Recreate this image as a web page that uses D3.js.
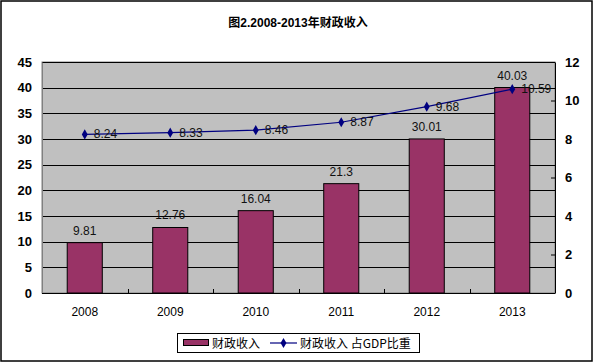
<!DOCTYPE html>
<html>
<head>
<meta charset="utf-8">
<script src="https://cdn.jsdelivr.net/npm/d3@7"></script>
<style>
body { margin: 0; background: #fff; }
text { font-family: Arial, "Liberation Sans", "Noto Sans CJK SC", sans-serif; }
</style>
</head>
<body>
<div id="chart"></div>
<script>
// data
var years = ["2008", "2009", "2010", "2011", "2012", "2013"];
var revenue = [9.81, 12.76, 16.04, 21.3, 30.01, 40.03];
var gdpShare = [8.24, 8.33, 8.46, 8.87, 9.68, 10.59];
var leftTicks = [0, 5, 10, 15, 20, 25, 30, 35, 40, 45];
var rightTicks = [0, 2, 4, 6, 8, 10, 12];

var width = 597, height = 363;
var plot = {left: 42, right: 555, top: 62, bottom: 293};

var svg = d3.select("#chart").append("svg").attr("width", width).attr("height", height)

// outer frame
svg.append("rect").attr("x", 1).attr("y", 1).attr("width", 591).attr("height", 360)
    .attr("fill", "#fff").attr("stroke", "#000").attr("stroke-width", 1.5)

svg.append("text").attr("x", 298).attr("y", 27).attr("text-anchor", "middle")
    .style("font-size", "12px").style("font-weight", "bold")
    .text("图2.2008-2013年财政收入")

var x = d3.scaleBand().domain(years).range([plot.left, plot.right]).paddingInner(0.59).paddingOuter(0.295)
var xc = d3.scaleBand().domain(years).range([plot.left, plot.right])
var yL = d3.scaleLinear().domain([0, 45]).range([plot.bottom, plot.top])
var yR = d3.scaleLinear().domain([0, 12]).range([plot.bottom, plot.top])

// plot background
svg.append("rect").attr("x", plot.left).attr("y", plot.top)
    .attr("width", plot.right - plot.left).attr("height", plot.bottom - plot.top)
    .attr("fill", "#c0c0c0").attr("stroke", "#808080")

// gridlines
svg.append("g").selectAll("line").data(leftTicks.slice(1)).enter().append("line")
    .attr("x1", plot.left).attr("x2", plot.right)
    .attr("y1", function(d) { return Math.round(yL(d)) + 0.5 })
    .attr("y2", function(d) { return Math.round(yL(d)) + 0.5 })
    .attr("stroke", "#000")

// left axis
var leftAxis = svg.append("g").attr("transform", "translate(" + plot.left + ",0)")
    .call(d3.axisLeft(yL).tickValues(leftTicks).tickSize(0).tickPadding(10))
leftAxis.select(".domain").attr("stroke", "#808080")
leftAxis.selectAll("text").style("font-size", "13px").style("font-weight", "bold")
    .style("font-family", "'Liberation Sans Narrow', 'Arial Narrow', Arial, sans-serif").attr("fill", "#000")

// right axis, ticks point inward
var rightAxis = svg.append("g").attr("transform", "translate(" + plot.right + ",0)")
    .call(d3.axisRight(yR).tickValues(rightTicks).tickSizeInner(-4).tickSizeOuter(0).tickPadding(10))
rightAxis.select(".domain").attr("stroke", "#000")
rightAxis.selectAll("line").attr("stroke", "#000")
rightAxis.selectAll("text").style("font-size", "13px").style("font-weight", "bold")
    .style("font-family", "'Liberation Sans Narrow', 'Arial Narrow', Arial, sans-serif").attr("fill", "#000")

// bars
svg.append("g").selectAll("rect").data(revenue).enter().append("rect")
    .attr("x", function(d, i) { return x(years[i]) })
    .attr("width", x.bandwidth())
    .attr("y", function(d) { return yL(d) })
    .attr("height", function(d) { return plot.bottom - yL(d) })
    .attr("fill", "#993366").attr("stroke", "#000")

// bottom axis with inward ticks at category boundaries
svg.append("line").attr("x1", plot.left).attr("x2", plot.right)
    .attr("y1", plot.bottom + 0.5).attr("y2", plot.bottom + 0.5).attr("stroke", "#000")
svg.append("g").selectAll("line").data(years.slice(1)).enter().append("line")
    .attr("x1", function(d) { return Math.round(xc(d)) + 0.5 })
    .attr("x2", function(d) { return Math.round(xc(d)) + 0.5 })
    .attr("y1", plot.bottom).attr("y2", plot.bottom - 4).attr("stroke", "#000")
svg.append("g").selectAll("text").data(years).enter().append("text")
    .attr("x", function(d) { return xc(d) + xc.bandwidth() / 2 })
    .attr("y", 316).attr("text-anchor", "middle").style("font-size", "12px")
    .text(function(d) { return d })

// bar labels
svg.append("g").selectAll("text").data(revenue).enter().append("text")
    .attr("x", function(d, i) { return xc(years[i]) + xc.bandwidth() / 2 })
    .attr("y", function(d) { return yL(d) - 8 }).attr("text-anchor", "middle")
    .style("font-size", "12px").attr("fill", "#111")
    .text(function(d) { return d })

// line series on the right axis
var line = d3.line()
    .x(function(d, i) { return xc(years[i]) + xc.bandwidth() / 2 })
    .y(function(d) { return yR(d) })
svg.append("path").datum(gdpShare).attr("d", line)
    .attr("fill", "none").attr("stroke", "#000080").attr("stroke-width", 1.2)
var diamond = d3.symbol().type(d3.symbolDiamond).size(30)
svg.append("g").selectAll("path").data(gdpShare).enter().append("path")
    .attr("d", diamond)
    .attr("transform", function(d, i) { return "translate(" + (xc(years[i]) + xc.bandwidth() / 2) + "," + yR(d) + ")" })
    .attr("fill", "#000080")
svg.append("g").selectAll("text").data(gdpShare).enter().append("text")
    .attr("x", function(d, i) { return xc(years[i]) + xc.bandwidth() / 2 + 9 })
    .attr("y", function(d) { return yR(d) + 4 })
    .style("font-size", "12px").attr("fill", "#111")
    .text(function(d) { return d })

// legend
var legend = svg.append("g")
legend.append("rect").attr("x", 177.5).attr("y", 333.5).attr("width", 242).attr("height", 19)
    .attr("fill", "#fff").attr("stroke", "#000")
legend.append("rect").attr("x", 183.5).attr("y", 339.5).attr("width", 25).attr("height", 6)
    .attr("fill", "#993366").attr("stroke", "#000")
legend.append("text").attr("x", 212).attr("y", 347.5).style("font-size", "12px")
    .style("font-family", "'Noto Sans CJK SC', sans-serif").text("财政收入")
legend.append("line").attr("x1", 270).attr("x2", 297).attr("y1", 343).attr("y2", 343)
    .attr("stroke", "#000080").attr("stroke-width", 1.2)
legend.append("path").attr("d", diamond).attr("transform", "translate(283.5,343)").attr("fill", "#000080")
legend.append("text").attr("x", 300).attr("y", 347.5).style("font-size", "12px")
    .style("font-family", "'Noto Sans CJK SC', sans-serif").text("财政收入 占GDP比重")
</script>
</body>
</html>
